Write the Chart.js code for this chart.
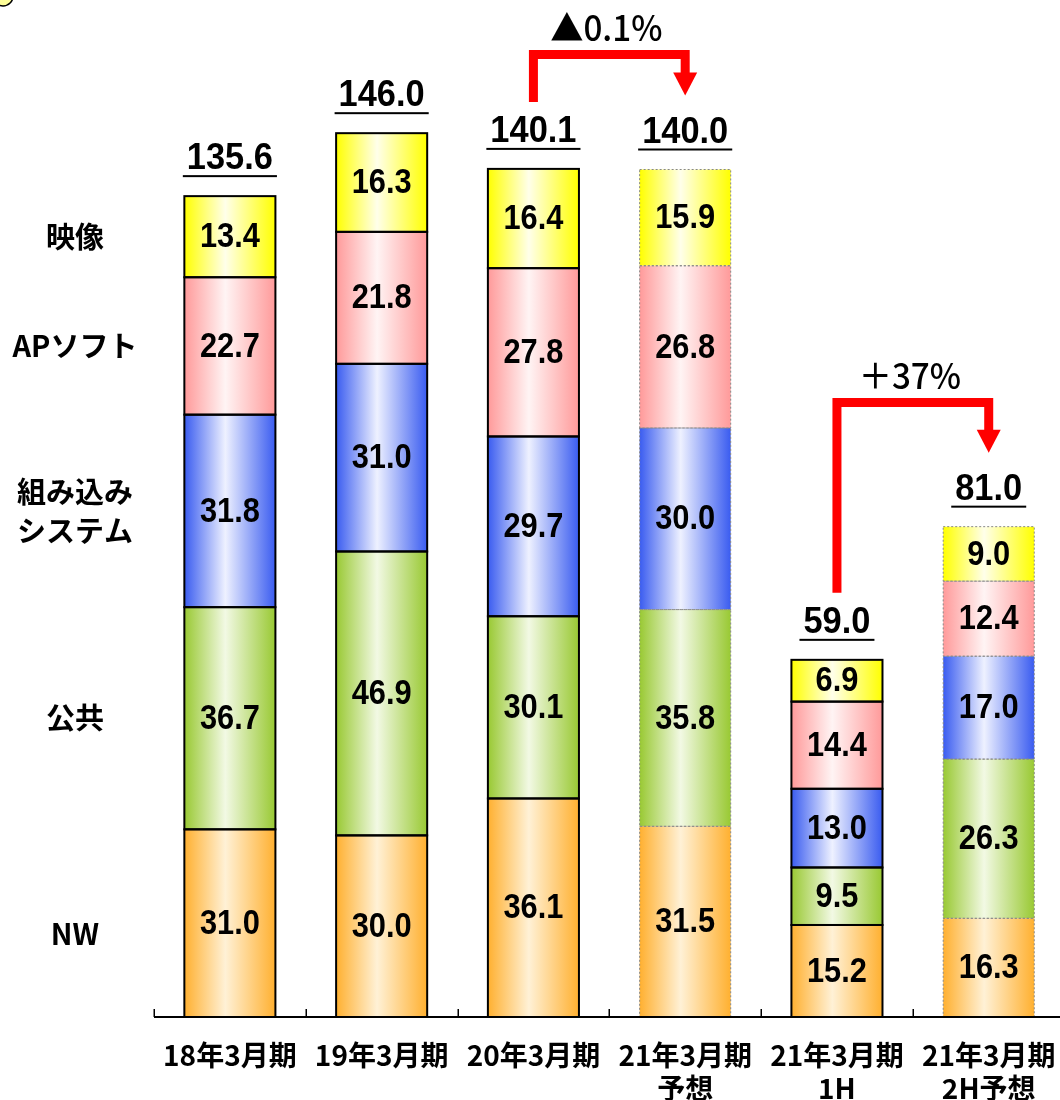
<!DOCTYPE html>
<html>
<head>
<meta charset="utf-8">
<script src="https://cdn.jsdelivr.net/npm/chart.js@4"></script>
<style>
  body { margin: 0; background: #fff; overflow: hidden; }
  #wrap { width: 1078px; height: 1104px; }
</style>
</head>
<body>
<div id="wrap"><canvas id="bars"></canvas></div>
<script>
// categories and values (億円)
const categories = ['18年3月期', '19年3月期', '20年3月期', ['21年3月期', '予想'], ['21年3月期', '1H'], ['21年3月期', '2H予想']];
const seriesNames = ['NW', '公共', ['組み込み', 'システム'], 'APソフト', '映像'];
const nw = [31.0, 30.0, 36.1, 31.5, 15.2, 16.3];
const kokyo = [36.7, 46.9, 30.1, 35.8, 9.5, 26.3];
const embedded = [31.8, 31.0, 29.7, 30.0, 13.0, 17.0];
const apSoft = [22.7, 21.8, 27.8, 26.8, 14.4, 12.4];
const eizo = [13.4, 16.3, 16.4, 15.9, 6.9, 9.0];
const totals = [135.6, 146.0, 140.1, 140.0, 59.0, 81.0];
const forecast = [false, false, false, true, false, true];
const changes = [
  { from: 2, to: 3, top: 159, text: '▲0.1%' },
  { from: 4, to: 5, top: 101.5, text: '＋37%' }
];

// edge colour / centre colour for each series
const shades = [
  ['#ffb030', '#fff1d6'],
  ['#99c933', '#f2f9e4'],
  ['#3a5cf0', '#eef1ff'],
  ['#ff9a9a', '#fff4f4'],
  ['#ffff00', '#ffffea']
];
const barPct = 0.6;

function shade(i) {
  return function(c) {
    const ch = c.chart;
    if (!ch.chartArea || c.dataIndex === undefined) return shades[i][0];
    const x = ch.scales.x;
    const cx = x.getPixelForValue(c.dataIndex);
    const w = x.width / categories.length * barPct;
    const g = ch.ctx.createLinearGradient(cx - w / 2, 0, cx + w / 2, 0);
    g.addColorStop(0, shades[i][0]);
    g.addColorStop(0.45, shades[i][1]);
    g.addColorStop(1, shades[i][0]);
    return g;
  };
}

function txt(ctx, s, x, y, sx) {
  ctx.save();
  ctx.translate(x, y);
  ctx.scale(sx, 1);
  ctx.fillText(s, 0, 0);
  ctx.restore();
}

const decor = {
  id: 'decor',
  afterDatasetsDraw(chart) {
    const ctx = chart.ctx;
    const xs = chart.scales.x, ys = chart.scales.y;
    const area = chart.chartArea;
    ctx.save();
    // borders
    chart.data.datasets.forEach((ds, di) => {
      chart.getDatasetMeta(di).data.forEach((bar, i) => {
        const p = bar.getProps(['x', 'y', 'base', 'width'], true);
        const l = p.x - p.width / 2, t = Math.min(p.y, p.base), h = Math.abs(p.base - p.y);
        if (forecast[i]) {
          ctx.setLineDash([2, 2]);
          ctx.strokeStyle = '#888';
          ctx.lineWidth = 1;
        } else {
          ctx.setLineDash([]);
          ctx.strokeStyle = '#000';
          ctx.lineWidth = 2;
        }
        ctx.strokeRect(l, t, p.width, h);
      });
    });
    ctx.setLineDash([]);
    // segment values
    ctx.fillStyle = '#000';
    ctx.textAlign = 'center';
    ctx.textBaseline = 'middle';
    ctx.font = 'bold 35px "Liberation Sans", Arial, sans-serif';
    chart.data.datasets.forEach((ds, di) => {
      chart.getDatasetMeta(di).data.forEach((bar, i) => {
        const p = bar.getProps(['x', 'y', 'base'], true);
        txt(ctx, ds.data[i].toFixed(1), p.x, (p.y + p.base) / 2 + 1, 0.88);
      });
    });
    // totals, underlined
    ctx.font = 'bold 37px "Liberation Sans", Arial, sans-serif';
    totals.forEach((v, i) => {
      const cx = xs.getPixelForValue(i), top = ys.getPixelForValue(v);
      const s = v.toFixed(1);
      txt(ctx, s, cx, top - 37, 0.93);
      const w = ctx.measureText(s).width * 0.93 + 8;
      ctx.fillRect(cx - w / 2, top - 21, w, 2);
    });
    // series names on the left, beside the first bar
    ctx.font = 'bold 29px "Noto Sans CJK JP", sans-serif';
    let base = 0;
    [nw, kokyo, embedded, apSoft, eizo].forEach((arr, si) => {
      const mid = ys.getPixelForValue(base + arr[0] / 2) + (si === 0 ? 11 : 0);
      base += arr[0];
      const name = seriesNames[si];
      if (Array.isArray(name)) {
        txt(ctx, name[0], 75, mid - 19, 1);
        txt(ctx, name[1], 75, mid + 20, 1);
      } else {
        txt(ctx, name, 75, mid, 1);
      }
    });
    // axis line with inward ticks at category boundaries
    const step = xs.width / categories.length;
    ctx.fillRect(area.left, area.bottom - 1, area.right - area.left, 2);
    for (let i = 0; i <= categories.length; i++) {
      const bx = Math.round(xs.getPixelForValue(i) - step / 2);
      ctx.fillRect(bx - 0.5, area.bottom - 8, 1.5, 8);
    }
    // change arrows
    changes.forEach(a => {
      const x1 = xs.getPixelForValue(a.from), x2 = xs.getPixelForValue(a.to);
      const yTop = ys.getPixelForValue(a.top);
      const yStart = ys.getPixelForValue(totals[a.from]) - 67;
      const yTip = ys.getPixelForValue(totals[a.to]) - 74;
      ctx.strokeStyle = '#ff0000';
      ctx.fillStyle = '#ff0000';
      ctx.lineWidth = 9;
      ctx.lineJoin = 'miter';
      ctx.beginPath();
      ctx.moveTo(x1, yStart);
      ctx.lineTo(x1, yTop);
      ctx.lineTo(x2, yTop);
      ctx.lineTo(x2, yTip - 22);
      ctx.stroke();
      ctx.beginPath();
      ctx.moveTo(x2 - 12, yTip - 23);
      ctx.lineTo(x2 + 12, yTip - 23);
      ctx.lineTo(x2, yTip);
      ctx.closePath();
      ctx.fill();
      ctx.fillStyle = '#000';
      ctx.font = '500 35px "Noto Sans CJK JP", "Liberation Sans", sans-serif';
      txt(ctx, a.text, (x1 + x2) / 2 - 3, yTop - 27, 0.95);
    });
    // stray marker in the top-left corner
    ctx.beginPath();
    ctx.arc(3, -4, 10, 0, Math.PI * 2);
    ctx.fillStyle = '#ffff99';
    ctx.fill();
    ctx.lineWidth = 1.5;
    ctx.strokeStyle = '#000';
    ctx.stroke();
    ctx.restore();
  }
};

const datasets = [nw, kokyo, embedded, apSoft, eizo].map((arr, i) => ({
  label: Array.isArray(seriesNames[i]) ? seriesNames[i].join('') : seriesNames[i],
  data: arr,
  backgroundColor: shade(i),
  borderWidth: 0,
  categoryPercentage: 1,
  barPercentage: barPct
}));

new Chart(document.getElementById('bars'), {
  type: 'bar',
  data: { labels: categories, datasets: datasets },
  options: {
    responsive: true,
    maintainAspectRatio: false,
    animation: false,
    layout: { padding: { left: 154, right: 6, top: 0, bottom: 0 } },
    plugins: { legend: { display: false }, tooltip: { enabled: false } },
    scales: {
      x: {
        stacked: true,
        grid: { display: false, drawTicks: false },
        border: { display: false },
        afterFit(scale) { scale.height = 87; },
        ticks: {
          color: '#000',
          padding: 22,
          maxRotation: 0,
          autoSkip: false,
          font: { family: '"Noto Sans CJK JP", sans-serif', size: 28, weight: 'bold', lineHeight: 1.18 }
        }
      },
      y: { stacked: true, display: false, min: 0, max: 168 }
    }
  },
  plugins: [decor]
});
</script>
</body>
</html>
